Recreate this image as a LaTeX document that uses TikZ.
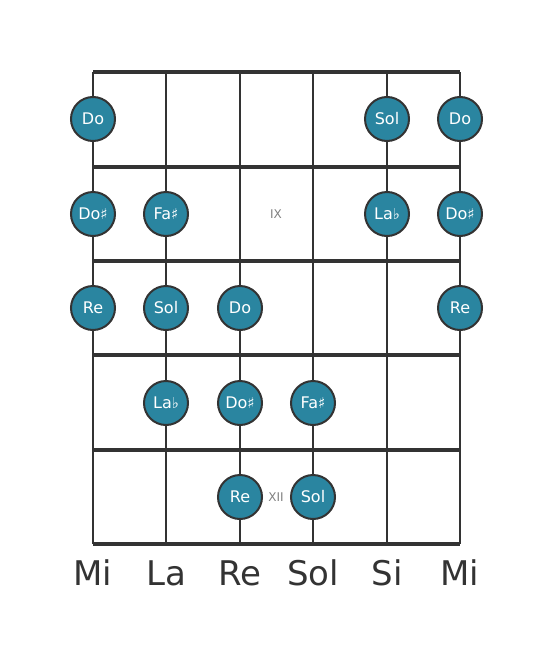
\documentclass[tikz,border=0pt]{standalone}
\usepackage{fontspec}
\setmainfont{DejaVu Sans}
\usepackage{tikz}
\usetikzlibrary{positioning}
\definecolor{notefill}{HTML}{2A85A0}
\definecolor{ink}{HTML}{333333}
\tikzset{
n/.style={
  circle,
  inner sep=0pt,
  minimum size=44pt,
  align=center,
  draw=ink,
  line width=2pt,
  fill=notefill,
  text=white,
  font=\fontsize{16}{16}\selectfont
  },
fretmark/.style={
  text=gray,
  font=\fontsize{12}{12}\selectfont
  },
openstr/.style={
  text=ink,
  font=\fontsize{34}{34}\selectfont
  }
}
\newcommand{\sh}{{\fontsize{15}{15}\selectfont ♯}}
\newcommand{\fl}{{\fontsize{15}{15}\selectfont ♭}}

\begin{document}
\begin{tikzpicture}[x=1pt,y=-1pt]
        \useasboundingbox (0,0) rectangle (553,656);
        % strings and frets
        \foreach \x in {93,166,240,313,387,460}
            \draw[ink,line width=2.5pt] (\x,72) -- (\x,544);
        \foreach \y in {72,167,261,355,450,544}
            \draw[ink,line width=4.5pt] (93,\y) -- (460,\y);
        % fret marks
        \node[fretmark] at (276,214) (ix) {IX};
        \node[fretmark] at (276,497) (xii) {XII};
        % notes
        \node[n] at (93,119) (do1) {Do};
        \node[n] at (387,119) (sol1) {Sol};
        \node[n] at (460,119) (do2) {Do};
        \node[n] at (93,214) (dos1) {Do\sh};
        \node[n] at (166,214) (fas1) {Fa\sh};
        \node[n] at (387,214) (lab1) {La\fl};
        \node[n] at (460,214) (dos2) {Do\sh};
        \node[n] at (93,308) (re1) {Re};
        \node[n] at (166,308) (sol2) {Sol};
        \node[n] at (240,308) (do3) {Do};
        \node[n] at (460,308) (re2) {Re};
        \node[n] at (166,403) (lab2) {La\fl};
        \node[n] at (240,403) (dos3) {Do\sh};
        \node[n] at (313,403) (fas2) {Fa\sh};
        \node[n] at (240,497) (re3) {Re};
        \node[n] at (313,497) (sol3) {Sol};
        % open strings
        \node[openstr] at (93,573) (mi1) {Mi};
        \node[openstr] at (166,573) (la) {La};
        \node[openstr] at (240,573) (re) {Re};
        \node[openstr] at (313,573) (sol) {Sol};
        \node[openstr] at (387,573) (si) {Si};
        \node[openstr] at (460,573) (mi2) {Mi};
    \end{tikzpicture}
\end{document}
